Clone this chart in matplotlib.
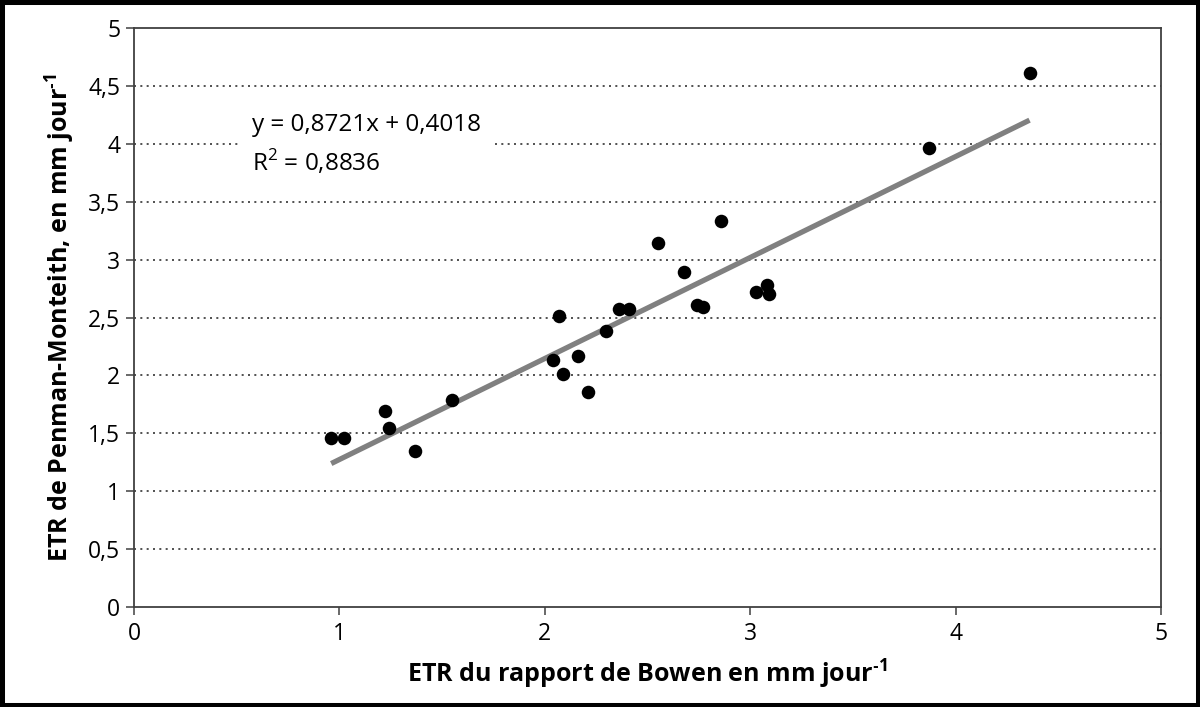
import matplotlib
matplotlib.use("Agg")
import matplotlib.pyplot as plt
from matplotlib.patches import Rectangle
import numpy as np

plt.rcParams['font.family'] = ['Open Sans', 'DejaVu Sans']
plt.rcParams['mathtext.fontset'] = 'custom'
plt.rcParams['mathtext.rm'] = 'Open Sans'
plt.rcParams['mathtext.bf'] = 'Open Sans:bold'

# ETR Bowen (x) vs ETR Penman-Monteith (y), mm/jour
etr_bowen = [0.96, 1.02, 1.22, 1.24, 1.37, 1.55, 2.04, 2.07, 2.09, 2.16, 2.21,
             2.30, 2.36, 2.41, 2.55, 2.68, 2.74, 2.77, 2.86, 3.03, 3.08, 3.09,
             3.87, 4.36]
etr_pm = [1.46, 1.46, 1.69, 1.55, 1.35, 1.79, 2.13, 2.51, 2.01, 2.17, 1.86,
          2.38, 2.57, 2.57, 3.14, 2.89, 2.61, 2.59, 3.33, 2.72, 2.78, 2.70,
          3.96, 4.61]

slope = 0.8721
intercept = 0.4018
r2 = 0.8836

x_ticks = [0, 1, 2, 3, 4, 5]
y_ticks = [0, 0.5, 1, 1.5, 2, 2.5, 3, 3.5, 4, 4.5, 5]
y_tick_labels = ['0', '0,5', '1', '1,5', '2', '2,5', '3', '3,5', '4', '4,5', '5']

fig = plt.figure(figsize=(12, 7.07), dpi=100)
ax = fig.add_axes([0.1117, 0.1414, 0.8558, 0.819])

# dotted horizontal grid
for yv in y_ticks[1:-1]:
    ax.axhline(yv, color='#333333', lw=1.2, ls=(0, (1.2, 2.6)), zorder=1)

# regression line over data range
xl = np.array([min(etr_bowen), max(etr_bowen)])
ax.plot(xl, slope * xl + intercept, color='#808080', lw=3.8, zorder=2,
        solid_capstyle='butt')
ax.scatter(etr_bowen, etr_pm, s=95, color='black', zorder=3, linewidths=0)

ax.text(0.575, 3.99, 'y = 0,8721x + 0,4018\nR$^{\\mathregular{2}}$ = 0,8836',
        fontsize=17.5, ha='left', va='center', linespacing=1.5, zorder=4,
        bbox=dict(facecolor='white', edgecolor='none', pad=9))

ax.set_xlim(0, 5)
ax.set_ylim(0, 5)
ax.set_xticks(x_ticks)
ax.set_xticklabels([str(v) for v in x_ticks])
ax.set_yticks(y_ticks)
ax.set_yticklabels(y_tick_labels)
ax.tick_params(axis='both', direction='out', length=6, width=1.1,
               color='#404040', labelsize=16.5, labelcolor='black')
ax.tick_params(axis='x', pad=5)
ax.tick_params(axis='y', pad=4)
for sp in ax.spines.values():
    sp.set_color('#404040')
    sp.set_linewidth(1.3)

ax.set_xlabel('ETR du rapport de Bowen en mm jour$^{\\mathbf{\u2010 1}}$',
              fontsize=18, fontweight='bold', labelpad=8)
ax.set_ylabel('ETR de Penman-Monteith, en mm jour$^{\\mathbf{\u20101}}$',
              fontsize=18, fontweight='bold', labelpad=8)

# outer black frame
fig.patches.append(Rectangle((0, 0), 1, 1, transform=fig.transFigure,
                             fill=False, edgecolor='black', lw=6.5))

fig.savefig('out.png', dpi=100, facecolor='white')
